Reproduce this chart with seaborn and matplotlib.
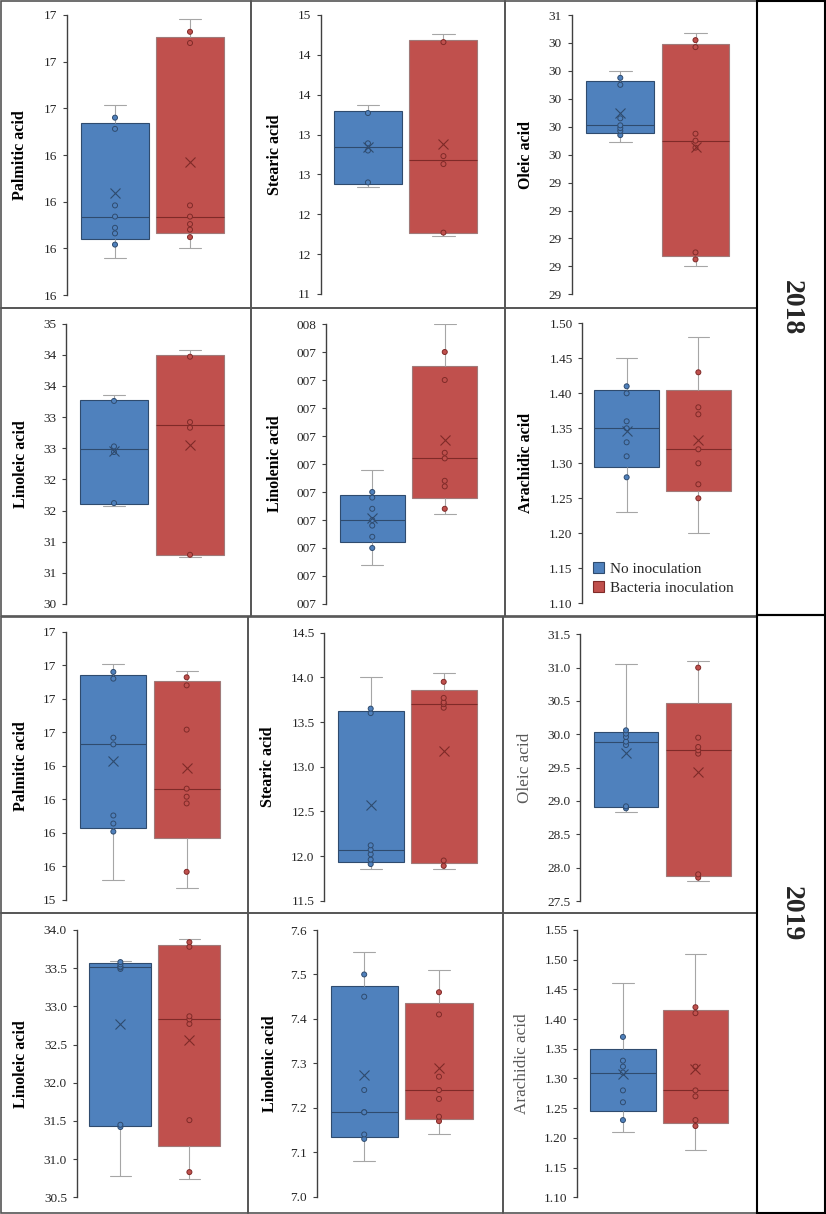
import numpy as np
import pandas as pd
import matplotlib
matplotlib.use("Agg")
import matplotlib as mpl
import matplotlib.pyplot as plt
from matplotlib.patches import Rectangle, Patch
from matplotlib.ticker import FixedLocator, FuncFormatter
import seaborn as sns
from decimal import Decimal, ROUND_HALF_UP

groups = ["No inoculation", "Bacteria inoculation"]
acids = ["Palmitic acid", "Stearic acid", "Oleic acid",
         "Linoleic acid", "Linolenic acid", "Arachidic acid"]
years = ["2018", "2019"]

# values (whisker ends included)
palmitic_2018_no = [15.70, 15.77, 15.83, 15.86, 15.92, 15.98, 16.39, 16.45, 16.52]
palmitic_2018_bac = [15.75, 15.81, 15.85, 15.88, 15.92, 15.98, 16.85, 16.91, 16.98]
stearic_2018_no = [12.34, 12.40, 12.80, 12.89, 13.27, 13.37]
stearic_2018_bac = [11.73, 11.77, 12.63, 12.73, 14.16, 14.26]
oleic_2018_no = [29.69, 29.74, 29.77, 29.79, 29.81, 29.86, 30.10, 30.15, 30.20]
oleic_2018_bac = [28.80, 28.85, 28.90, 29.65, 29.70, 29.75, 30.37, 30.42, 30.47]
linoleic_2018_no = [31.57, 31.62, 32.44, 32.53, 33.26, 33.35]
linoleic_2018_bac = [30.75, 30.79, 32.83, 32.92, 33.97, 34.07]
linolenic_2018_no = [7.07, 7.10, 7.12, 7.14, 7.15, 7.17, 7.19, 7.20, 7.24]
linolenic_2018_bac = [7.16, 7.17, 7.21, 7.22, 7.26, 7.27, 7.40, 7.45, 7.50]
arachidic_2018_no = [1.23, 1.28, 1.31, 1.33, 1.35, 1.36, 1.40, 1.41, 1.45]
arachidic_2018_bac = [1.20, 1.25, 1.27, 1.30, 1.32, 1.37, 1.38, 1.43, 1.48]

palmitic_2019_no = [15.40, 15.76, 15.82, 15.88, 16.41, 16.46, 16.90, 16.95, 17.01]
palmitic_2019_bac = [15.34, 15.46, 15.97, 16.02, 16.08, 16.52, 16.85, 16.91, 16.96]
stearic_2019_no = [11.85, 11.91, 11.96, 12.02, 12.07, 12.12, 13.60, 13.65, 14.00]
stearic_2019_bac = [11.85, 11.89, 11.95, 13.66, 13.70, 13.72, 13.77, 13.95, 14.05]
oleic_2019_no = [28.83, 28.89, 28.92, 29.84, 29.89, 29.96, 30.01, 30.06, 31.05]
oleic_2019_bac = [27.80, 27.85, 27.90, 29.71, 29.76, 29.81, 29.95, 31.00, 31.10]
linoleic_2019_no = [30.78, 31.42, 31.45, 33.49, 33.51, 33.52, 33.55, 33.58, 33.60]
linoleic_2019_bac = [30.74, 30.83, 31.51, 32.77, 32.83, 32.87, 33.78, 33.84, 33.88]
linolenic_2019_no = [7.08, 7.13, 7.14, 7.19, 7.19, 7.24, 7.45, 7.50, 7.55]
linolenic_2019_bac = [7.14, 7.17, 7.18, 7.22, 7.24, 7.27, 7.41, 7.46, 7.51]
arachidic_2019_no = [1.21, 1.23, 1.26, 1.28, 1.31, 1.32, 1.33, 1.37, 1.46]
arachidic_2019_bac = [1.18, 1.22, 1.23, 1.27, 1.28, 1.32, 1.41, 1.42, 1.51]

# y axis of every panel (row-major: 2018 first, then 2019)
y_lo = [15.5, 11.0, 28.6, 30.0, 7.0, 1.10, 15.25, 11.5, 27.5, 30.5, 7.0, 1.10]
y_hi = [17.0, 14.5, 30.6, 34.5, 7.5, 1.50, 17.25, 14.5, 31.5, 34.0, 7.6, 1.55]
y_step = [0.25, 0.5, 0.2, 0.5, 0.05, 0.05, 0.25, 0.5, 0.5, 0.5, 0.1, 0.05]
y_fmt = ["0", "0", "0", "0", "000", "0.00", "0", "0.0", "0.0", "0.0", "0.0", "0.00"]

series = {
    ("2018", "Palmitic acid"): (palmitic_2018_no, palmitic_2018_bac),
    ("2018", "Stearic acid"): (stearic_2018_no, stearic_2018_bac),
    ("2018", "Oleic acid"): (oleic_2018_no, oleic_2018_bac),
    ("2018", "Linoleic acid"): (linoleic_2018_no, linoleic_2018_bac),
    ("2018", "Linolenic acid"): (linolenic_2018_no, linolenic_2018_bac),
    ("2018", "Arachidic acid"): (arachidic_2018_no, arachidic_2018_bac),
    ("2019", "Palmitic acid"): (palmitic_2019_no, palmitic_2019_bac),
    ("2019", "Stearic acid"): (stearic_2019_no, stearic_2019_bac),
    ("2019", "Oleic acid"): (oleic_2019_no, oleic_2019_bac),
    ("2019", "Linoleic acid"): (linoleic_2019_no, linoleic_2019_bac),
    ("2019", "Linolenic acid"): (linolenic_2019_no, linolenic_2019_bac),
    ("2019", "Arachidic acid"): (arachidic_2019_no, arachidic_2019_bac),
}
rows = []
for (yr, acid), pair in series.items():
    for g, vals in zip(groups, pair):
        rows += [(yr, acid, g, v) for v in vals]
df = pd.DataFrame(rows, columns=["year", "acid", "group", "value"])

# Excel box & whisker uses exclusive quartiles, numpy default is inclusive
_boxplot_stats = mpl.cbook.boxplot_stats


def excel_boxplot_stats(X, *args, **kwargs):
    stats = _boxplot_stats(X, *args, **kwargs)
    arrays = X if isinstance(X, (list, tuple)) else [X]
    for s, x in zip(stats, arrays):
        q1, med, q3 = np.percentile(np.asarray(x, float), [25, 50, 75], method="weibull")
        s.update(q1=q1, med=med, q3=q3, iqr=q3 - q1)
    return stats


mpl.cbook.boxplot_stats = excel_boxplot_stats


def excel_fmt(code):
    q = {"0": "1", "000": "1", "0.0": "0.1", "0.00": "0.01"}[code]

    def f(v, pos):
        s = str(Decimal(f"{float(v):.6f}").quantize(Decimal(q), rounding=ROUND_HALF_UP))
        return s.zfill(3) if code == "000" else s
    return f


box_colors = ["#4F81BD", "#C0504D"]
box_edges = ["#2F4B6E", "#A07A79"]
dark_colors = ["#2F4B6E", "#7F2A28"]
whisker_gray = "#A6A6A6"
palette = dict(zip(groups, box_colors))

# layout in pixels of the 826x1214 picture
W, H = 826, 1214
spine_x = [67, 320.7, 571.7, 66, 326, 582.3, 65.7, 324.3, 580, 76.7, 316.7, 577.3]
top_y = [15, 15, 15, 323.7, 324, 323.3, 631.7, 632.7, 634.3, 930, 930, 930]
bot_y = [295, 294, 294.3, 604, 604, 603.3, 900, 900.7, 901, 1197.3, 1196.7, 1197.3]
mid_x = [152.5, 405.7, 657.9, 152, 408.5, 662.5, 150, 407.2, 662.1, 154.9, 401.6, 659.2]
pair_gap = [75, 75.5, 75.2, 76, 72.5, 71.7, 73.3, 73, 72.2, 69, 74.8, 72.5]
label_x = [20, 275, 525.7, 20.7, 275, 525.7, 20.7, 268.3, 525, 20.7, 270, 521.7]
frames = [(1, 1, 251, 308), (251, 1, 505, 308), (505, 1, 757, 308),
          (1, 308, 251, 616), (251, 308, 505, 616), (505, 308, 757, 616),
          (1, 617, 248, 913), (248, 617, 503, 913), (503, 617, 757, 913),
          (1, 913, 248, 1213), (248, 913, 503, 1213), (503, 913, 757, 1213)]

sns.set_style("ticks")
plt.rcParams["font.family"] = ["Liberation Serif", "DejaVu Serif"]

fig = plt.figure(figsize=(W / 100, H / 100), dpi=100)


def px_rect(x0, y0, x1, y1):
    return [x0 / W, 1 - y1 / H, (x1 - x0) / W, (y1 - y0) / H]


for i in range(12):
    yr = years[i // 6]
    acid = acids[i % 6]
    half = mid_x[i] - spine_x[i]
    unit = pair_gap[i] / 0.4
    ax = fig.add_axes(px_rect(spine_x[i], top_y[i], spine_x[i] + 2 * half, bot_y[i]))
    sub = df[(df.year == yr) & (df.acid == acid)]

    for g, ec, dc in zip(groups, box_edges, dark_colors):
        part = sub[sub.group == g]
        sns.boxplot(data=part, x="acid", y="value", hue="group", hue_order=groups,
                    palette=palette, dodge=True, gap=0.1, whis=(0, 100), saturation=1,
                    linewidth=0.8, linecolor=whisker_gray, showmeans=True,
                    meanprops=dict(marker="x", markeredgecolor=dc, markersize=7,
                                   markeredgewidth=0.8, zorder=4),
                    boxprops=dict(edgecolor=ec), medianprops=dict(color=dc),
                    capwidths=0.12, legend=False, ax=ax)
        inner = part.sort_values("value").iloc[1:-1]
        sns.stripplot(data=inner, x="acid", y="value", hue="group", hue_order=groups,
                      palette=palette, dodge=True, jitter=False, size=3.6,
                      linewidth=0.7, edgecolor=dc, legend=False, zorder=3, ax=ax)

    ax.set_xlim(-half / unit, half / unit)
    ax.set_ylim(y_lo[i], y_hi[i])
    ax.set_xlabel("")
    ax.set_xticks([])
    sns.despine(ax=ax, bottom=True)
    ax.spines["left"].set_color("#404040")
    ax.spines["left"].set_linewidth(1.0)
    ax.yaxis.set_major_locator(FixedLocator(np.arange(y_lo[i], y_hi[i] + y_step[i] / 2, y_step[i])))
    ax.yaxis.set_major_formatter(FuncFormatter(excel_fmt(y_fmt[i])))
    ax.tick_params(axis="y", length=3, width=0.8, pad=4, labelsize=9.5,
                   color="#404040", labelcolor="#262626")
    if i in (8, 11):
        ax.set_ylabel(acid, fontsize=12.3, color="#595959", va="center")
    else:
        ax.set_ylabel(acid, fontsize=11.5, fontweight="bold", color="black", va="center")
    ax.yaxis.set_label_coords((label_x[i] - spine_x[i]) / (2 * half), 0.5)

    if i == 5:
        handles = [Patch(facecolor=c, edgecolor=e, lw=0.8) for c, e in zip(box_colors, dark_colors)]
        ax.legend(handles, groups, loc="upper left",
                  bbox_to_anchor=((593 - spine_x[i]) / (2 * half),
                                  (bot_y[i] - 562) / (bot_y[i] - top_y[i])),
                  frameon=False, fontsize=11, handlelength=0.75, handleheight=0.75,
                  handletextpad=0.35, labelspacing=0.35, borderpad=0, borderaxespad=0)

for (x0, y0, x1, y1) in frames:
    fig.add_artist(Rectangle((x0 / W, 1 - y1 / H), (x1 - x0) / W, (y1 - y0) / H,
                             transform=fig.transFigure, fill=False, ec="#555555", lw=1.2))
for (x0, y0, x1, y1), yr in zip([(757, 1, 825, 615), (757, 615, 825, 1213)], years):
    fig.add_artist(Rectangle((x0 / W, 1 - y1 / H), (x1 - x0) / W, (y1 - y0) / H,
                             transform=fig.transFigure, fill=False, ec="black", lw=1.5))
    fig.text((x0 + x1) / 2 / W, 1 - (y0 + y1) / 2 / H, yr, rotation=270,
             ha="center", va="center", fontsize=20, fontweight="bold")

fig.savefig("out.png", dpi=100)
